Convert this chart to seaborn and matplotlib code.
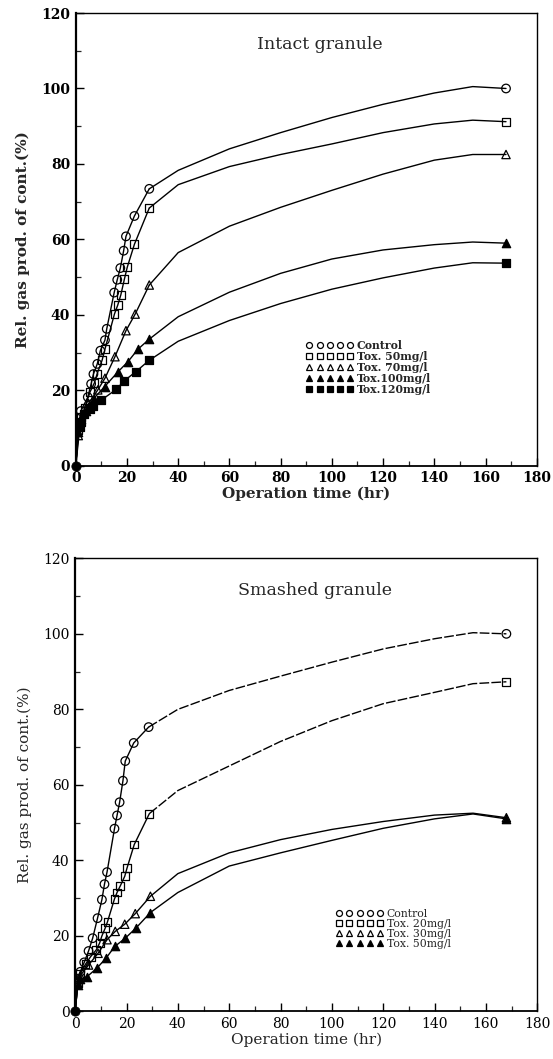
import numpy as np
import pandas as pd
import matplotlib
matplotlib.use("Agg")
import matplotlib.pyplot as plt
from matplotlib.lines import Line2D
from matplotlib.ticker import MultipleLocator
import seaborn as sns

# ---------------- Data: top panel (intact granule) ----------------
# measured points (with markers)
top_ctrl_t = [0, 1.0, 2.0, 4.7, 6.0, 6.9, 8.4, 9.6, 11.4, 12.1, 15.0, 16.2, 17.4, 18.7, 19.6, 22.9, 28.7, 168]
top_ctrl_y = [0, 10.5, 14.5, 18.2, 21.7, 24.3, 27.0, 30.5, 33.3, 36.3, 45.9, 49.3, 52.4, 57.0, 60.8, 66.2, 73.4, 100.0]
top_t50_t = [0, 1.0, 2.1, 3.4, 5.6, 7.3, 8.3, 10.3, 11.4, 15.1, 16.4, 17.6, 19.0, 20.1, 22.9, 28.7, 168]
top_t50_y = [0, 9.5, 13.0, 15.2, 19.6, 22.0, 24.3, 28.0, 30.9, 40.2, 42.6, 45.3, 49.5, 52.6, 58.7, 68.3, 91.2]
top_t70_t = [0, 1.0, 2.0, 5.0, 8.6, 11.4, 15.3, 19.6, 23.2, 28.7, 168]
top_t70_y = [0, 8.0, 11.5, 16.5, 20.1, 23.2, 28.9, 35.8, 40.2, 47.9, 82.5]
top_t100_t = [0, 1.0, 2.0, 4.0, 7.0, 11.3, 16.5, 20.4, 24.3, 28.6, 168]
top_t100_y = [0, 9.0, 12.5, 14.5, 17.8, 21.0, 24.9, 27.6, 30.9, 33.5, 59.0]
top_t120_t = [0, 1.6, 2.2, 3.2, 5.5, 6.8, 10.0, 15.9, 18.9, 23.4, 28.6, 168]
top_t120_y = [0, 10.3, 11.7, 13.8, 15.0, 15.8, 17.4, 20.3, 22.5, 24.9, 27.9, 53.7]
# fitted curve between the last early point and 168 h
curve_t = [40, 60, 80, 100, 120, 140, 155]
top_ctrl_c = [78.3, 84.0, 88.3, 92.3, 95.8, 98.8, 100.5]
top_t50_c = [74.5, 79.3, 82.5, 85.3, 88.3, 90.6, 91.6]
top_t70_c = [56.5, 63.5, 68.5, 73.0, 77.3, 81.0, 82.5]
top_t100_c = [39.5, 46.0, 51.0, 54.8, 57.2, 58.6, 59.3]
top_t120_c = [33.0, 38.5, 43.0, 46.8, 49.8, 52.4, 53.8]
top_labels = ["Control", "Tox. 50mg/l", "Tox. 70mg/l", "Tox.100mg/l", "Tox.120mg/l"]

# ---------------- Data: bottom panel (smashed granule) ----------------
bot_ctrl_t = [0, 1.0, 2.0, 3.5, 5.2, 6.8, 8.7, 10.4, 11.4, 12.4, 15.3, 16.3, 17.3, 18.6, 19.5, 22.8, 28.6, 168]
bot_ctrl_y = [0, 8.0, 10.5, 13.0, 16.0, 19.4, 24.7, 29.6, 33.7, 36.9, 48.4, 51.9, 55.4, 61.1, 66.3, 71.1, 75.3, 100.0]
bot_t20_t = [0, 1.0, 2.0, 4.0, 6.0, 8.2, 9.5, 10.4, 11.7, 12.6, 15.3, 16.3, 17.6, 19.3, 20.2, 23.0, 28.9, 168]
bot_t20_y = [0, 7.5, 10.0, 12.5, 14.5, 16.3, 18.1, 20.0, 22.1, 23.8, 29.8, 31.5, 33.3, 35.8, 38.0, 44.2, 52.4, 87.3]
bot_t30_t = [0, 1.0, 2.0, 5.2, 8.9, 12.4, 15.6, 19.3, 23.4, 29.3, 168]
bot_t30_y = [0, 7.5, 9.5, 12.3, 15.4, 19.0, 21.2, 23.1, 25.9, 30.5, 51.3]
bot_t50_t = [0, 1.0, 2.0, 4.6, 8.5, 12.0, 15.4, 19.5, 23.7, 29.3, 168]
bot_t50_y = [0, 7.0, 8.5, 9.2, 11.5, 14.1, 17.2, 19.4, 22.1, 26.2, 51.0]
bot_ctrl_c = [80.0, 85.0, 88.8, 92.5, 96.0, 98.7, 100.3]
bot_t20_c = [58.5, 65.0, 71.5, 77.0, 81.5, 84.5, 86.8]
bot_t30_c = [36.5, 42.0, 45.5, 48.2, 50.3, 52.0, 52.5]
bot_t50_c = [31.5, 38.5, 42.0, 45.3, 48.5, 51.0, 52.3]
bot_labels = ["Control", "Tox. 20mg/l", "Tox. 30mg/l", "Tox. 50mg/l"]

x_ticks = list(range(0, 181, 20))
y_ticks = list(range(0, 121, 20))

# marker styles: (marker, filled)
top_styles = [("o", False), ("s", False), ("^", False), ("^", True), ("s", True)]
bot_styles = [("o", False), ("s", False), ("^", False), ("^", True)]

# ---------------- Style ----------------
sns.set_theme(style="ticks")
plt.rcParams["font.family"] = ["DejaVu Serif", "DejaVu Sans"]
plt.rcParams["xtick.direction"] = "in"
plt.rcParams["ytick.direction"] = "in"

fig = plt.figure(figsize=(5.53, 10.59), dpi=100)
ax_top = fig.add_axes([0.137, 0.5602, 0.8336, 0.4275])
ax_bot = fig.add_axes([0.136, 0.0449, 0.8354, 0.4279])


def draw_panel(ax, series, labels, styles, title, title_x, leg_anchor,
               weight, dashed_tail):
    for i, ((t, y, c), lab, (mk, filled)) in enumerate(zip(series, labels, styles)):
        early = pd.DataFrame({"t": t[:-1], "y": y[:-1]})
        tail = pd.DataFrame({"t": [t[-2]] + curve_t + [t[-1]],
                             "y": [y[-2]] + c + [y[-1]]})
        sns.lineplot(data=early, x="t", y="y", ax=ax, color="black", lw=1.0,
                     sort=True, estimator=None)
        ls = (0, (7, 1.6)) if (dashed_tail and i < 2) else "-"
        sns.lineplot(data=tail, x="t", y="y", ax=ax, color="black", lw=1.0,
                     sort=True, estimator=None, linestyle=ls)
        pts = pd.DataFrame({"t": t[1:], "y": y[1:]})
        size = 38 if mk == "o" else (32 if mk == "s" else 36)
        sns.scatterplot(data=pts, x="t", y="y", ax=ax, marker=mk, s=size,
                        facecolor="black" if filled else "none",
                        edgecolor="black", linewidth=0.9, zorder=3)
    # origin point
    org = pd.DataFrame({"t": [series[0][0][0]], "y": [series[0][1][0]]})
    sns.scatterplot(data=org, x="t", y="y", ax=ax, marker="o", s=45,
                    color="black", edgecolor="black", zorder=5, clip_on=False)

    ax.set_xlim(0, 180)
    ax.set_ylim(0, 120)
    ax.set_xticks(x_ticks)
    ax.set_yticks(y_ticks)
    ax.xaxis.set_minor_locator(MultipleLocator(10))
    ax.yaxis.set_minor_locator(MultipleLocator(10))
    ax.tick_params(axis="both", which="major", length=6, width=1.0,
                   labelsize=10, pad=4, direction="in", colors="black")
    ax.tick_params(axis="both", which="minor", length=3.5, width=0.9, direction="in")
    for lbl in ax.get_xticklabels() + ax.get_yticklabels():
        lbl.set_fontweight(weight)
    for side, sp in ax.spines.items():
        sp.set_visible(True)
        sp.set_color("black")
        sp.set_linewidth(1.0)
    ax.spines["left"].set_linewidth(1.6)
    ax.spines["bottom"].set_linewidth(1.3)

    ax.set_xlabel("Operation time (hr)", fontsize=11, fontweight=weight, labelpad=1)
    ax.set_ylabel("Rel. gas prod. of cont.(%)", fontsize=11, fontweight=weight, labelpad=8)
    ax.text(title_x, 0.93, title, transform=ax.transAxes, ha="center", va="center",
            fontsize=12.5)

    handles = []
    for (mk, filled) in styles:
        handles.append(Line2D([], [], ls="", marker=mk, ms=4.3,
                              mfc="black" if filled else "none", mec="black", mew=0.9))
    ax.legend(handles, labels, loc="center left", bbox_to_anchor=leg_anchor,
              numpoints=5, handlelength=4.4, handletextpad=0.3,
              labelspacing=0.0, frameon=False, borderaxespad=0,
              prop={"family": "DejaVu Serif", "weight": weight, "size": 7.8})
    ax.grid(False)


top_series = [(top_ctrl_t, top_ctrl_y, top_ctrl_c), (top_t50_t, top_t50_y, top_t50_c),
              (top_t70_t, top_t70_y, top_t70_c), (top_t100_t, top_t100_y, top_t100_c),
              (top_t120_t, top_t120_y, top_t120_c)]
bot_series = [(bot_ctrl_t, bot_ctrl_y, bot_ctrl_c), (bot_t20_t, bot_t20_y, bot_t20_c),
              (bot_t30_t, bot_t30_y, bot_t30_c), (bot_t50_t, bot_t50_y, bot_t50_c)]

draw_panel(ax_top, top_series, top_labels, top_styles, "Intact granule", 0.53,
           (0.49, 0.218), "bold", False)
draw_panel(ax_bot, bot_series, bot_labels, bot_styles, "Smashed granule", 0.52,
           (0.555, 0.182), "normal", True)

fig.savefig("out.png", dpi=100)
